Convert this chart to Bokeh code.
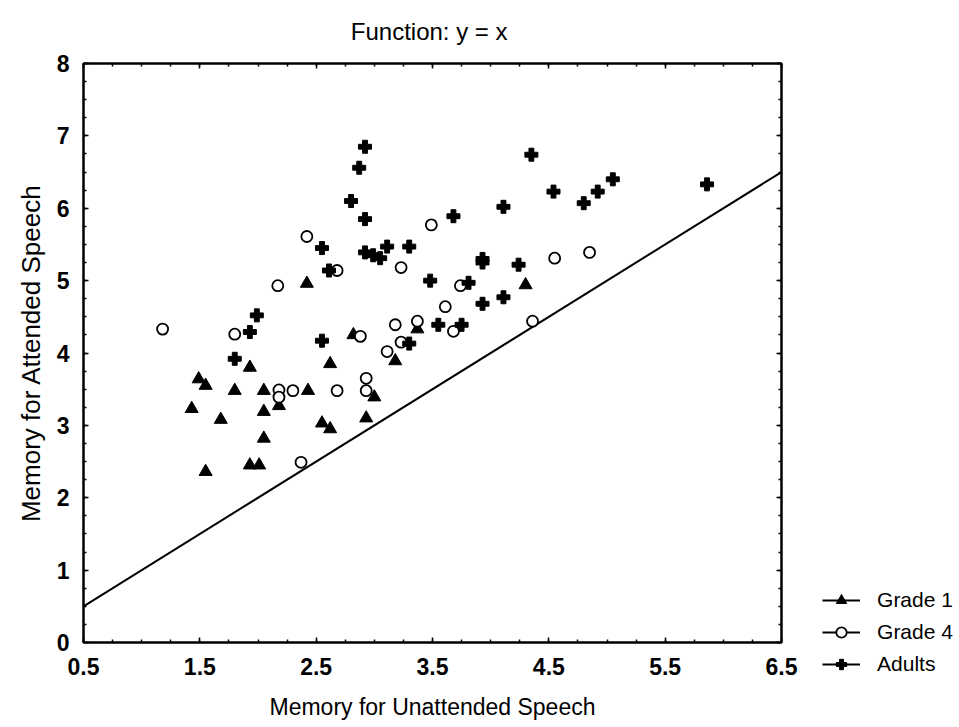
from bokeh.plotting import figure
from bokeh.models import LinearAxis, FixedTicker, Legend, LegendItem, Range1d
from bokeh.embed import file_html
from bokeh.resources import INLINE

# ---- data ----
grade1_x = [2.42, 1.93, 2.62, 1.49, 1.55, 1.80, 2.05, 2.18, 2.43, 1.43, 2.05, 1.68,
            2.55, 2.62, 2.05, 1.93, 2.01, 1.55, 4.30, 3.37, 2.82, 3.18, 3.00, 2.93]
grade1_y = [4.96, 3.80, 3.85, 3.64, 3.55, 3.48, 3.48, 3.27, 3.48, 3.23, 3.19, 3.08,
            3.03, 2.95, 2.82, 2.45, 2.45, 2.36, 4.94, 4.33, 4.25, 3.89, 3.39, 3.10]

grade4_x = [2.42, 2.68, 2.17, 1.18, 1.80, 2.18, 2.18, 2.30, 2.68, 2.37, 3.49, 3.23, 4.55,
            3.74, 3.61, 4.85, 3.18, 3.37, 3.68, 4.36, 2.88, 3.23, 3.11, 2.93, 2.93]
grade4_y = [5.61, 5.14, 4.93, 4.33, 4.26, 3.49, 3.39, 3.48, 3.48, 2.49, 5.77, 5.18, 5.31,
            4.93, 4.64, 5.39, 4.39, 4.44, 4.30, 4.44, 4.23, 4.15, 4.02, 3.65, 3.48]

adults_x = [2.55, 2.61, 1.99, 1.93, 2.55, 1.80, 2.92, 2.87, 2.80, 2.92, 3.68, 4.11, 4.35,
            4.54, 2.92, 2.99, 3.05, 3.11, 3.30, 3.93, 3.93, 4.24, 3.48, 3.81, 3.93, 4.11,
            4.80, 4.92, 5.05, 5.86, 3.55, 3.75, 3.30]
adults_y = [5.45, 5.14, 4.52, 4.29, 4.17, 3.92, 6.85, 6.56, 6.10, 5.85, 5.89, 6.02, 6.74,
            6.23, 5.39, 5.35, 5.31, 5.47, 5.47, 5.30, 5.25, 5.22, 5.00, 4.97, 4.68, 4.77,
            6.07, 6.23, 6.40, 6.33, 4.39, 4.39, 4.13]

# function y = x drawn across the axis range
identity_x = [0.5, 6.5]
identity_y = [0.5, 6.5]

x_tick_values = [0.5, 1.5, 2.5, 3.5, 4.5, 5.5, 6.5]
y_tick_values = [0, 1, 2, 3, 4, 5, 6, 7, 8]
x_minor_values = [0.5 + 0.25 * i for i in range(25)]
y_minor_values = [0.25 * i for i in range(33)]

series_labels = ["Grade 1", "Grade 4", "Adults"]

FONT = "Liberation Sans"

p = figure(frame_width=698, frame_height=579,
           x_range=Range1d(0.5, 6.5), y_range=Range1d(0, 8),
           output_backend="svg", toolbar_location=None,
           min_border_left=83, min_border_right=176,
           min_border_top=63, min_border_bottom=84,
           background_fill_color="white", border_fill_color="white")

p.grid.visible = False
p.outline_line_color = "black"
p.outline_line_width = 2

p.title.text = "Function:  y = x"
p.title.align = "center"
p.title.vertical_align = "top"
p.title.text_font = FONT
p.title.text_font_style = "normal"
p.title.text_font_size = "24px"
p.title.text_color = "black"
p.title.standoff = 33


def style_axis(ax, ticks, minor, show_labels):
    ax.ticker = FixedTicker(ticks=ticks, minor_ticks=minor)
    ax.axis_line_width = 2
    ax.axis_line_color = "black"
    ax.major_tick_in = 5
    ax.major_tick_out = 0
    ax.minor_tick_in = 3
    ax.minor_tick_out = 0
    ax.major_tick_line_width = 1.5
    ax.minor_tick_line_width = 1.5
    ax.major_tick_line_color = "black"
    ax.minor_tick_line_color = "black"
    ax.major_label_text_font = FONT
    ax.major_label_text_font_style = "bold"
    ax.major_label_text_color = "black"
    if show_labels:
        ax.major_label_text_font_size = "23px"
        ax.major_label_standoff = 15
    else:
        ax.major_label_overrides = {t: "" for t in ticks}
        ax.major_label_text_font_size = "1px"
        ax.major_label_standoff = 0


style_axis(p.xaxis[0], x_tick_values, x_minor_values, True)
style_axis(p.yaxis[0], y_tick_values, y_minor_values, True)
p.yaxis[0].major_label_standoff = 14
p.xaxis[0].axis_label = "Memory for Unattended Speech"
p.yaxis[0].axis_label = "Memory for Attended Speech"
for ax in (p.xaxis[0], p.yaxis[0]):
    ax.axis_label_text_font = FONT
    ax.axis_label_text_font_style = "normal"
    ax.axis_label_text_color = "black"
p.xaxis[0].axis_label_text_font_size = "23px"
p.xaxis[0].axis_label_standoff = 16
p.yaxis[0].axis_label_text_font_size = "26px"
p.yaxis[0].axis_label_standoff = 8

top_ax = LinearAxis()
style_axis(top_ax, x_tick_values, x_minor_values, False)
p.add_layout(top_ax, "above")
right_ax = LinearAxis()
style_axis(right_ax, y_tick_values, y_minor_values, False)
p.add_layout(right_ax, "right")

identity_line = p.line(identity_x, identity_y, line_color="black", line_width=2)

r1 = p.scatter(grade1_x, grade1_y, marker="triangle", size=13,
               fill_color="black", line_color="black")
r4 = p.scatter(grade4_x, grade4_y, marker="circle", size=11,
               fill_color="white", line_color="black", line_width=1.8)
ra = p.scatter(adults_x, adults_y, marker="plus", size=13,
               fill_color="black", line_color="black")

legend = Legend(items=[LegendItem(label=series_labels[0], renderers=[identity_line, r1]),
                       LegendItem(label=series_labels[1], renderers=[identity_line, r4]),
                       LegendItem(label=series_labels[2], renderers=[identity_line, ra])],
                location=(-190, -35))
legend.border_line_color = None
legend.background_fill_alpha = 0
legend.padding = 0
legend.margin = 0
legend.spacing = 6
legend.glyph_width = 38
legend.glyph_height = 26
legend.label_height = 26
legend.label_standoff = 17
legend.label_text_font = FONT
legend.label_text_font_size = "21px"
legend.label_text_color = "black"
p.add_layout(legend, "right")

open("out.html", "w").write(file_html(p, INLINE))
